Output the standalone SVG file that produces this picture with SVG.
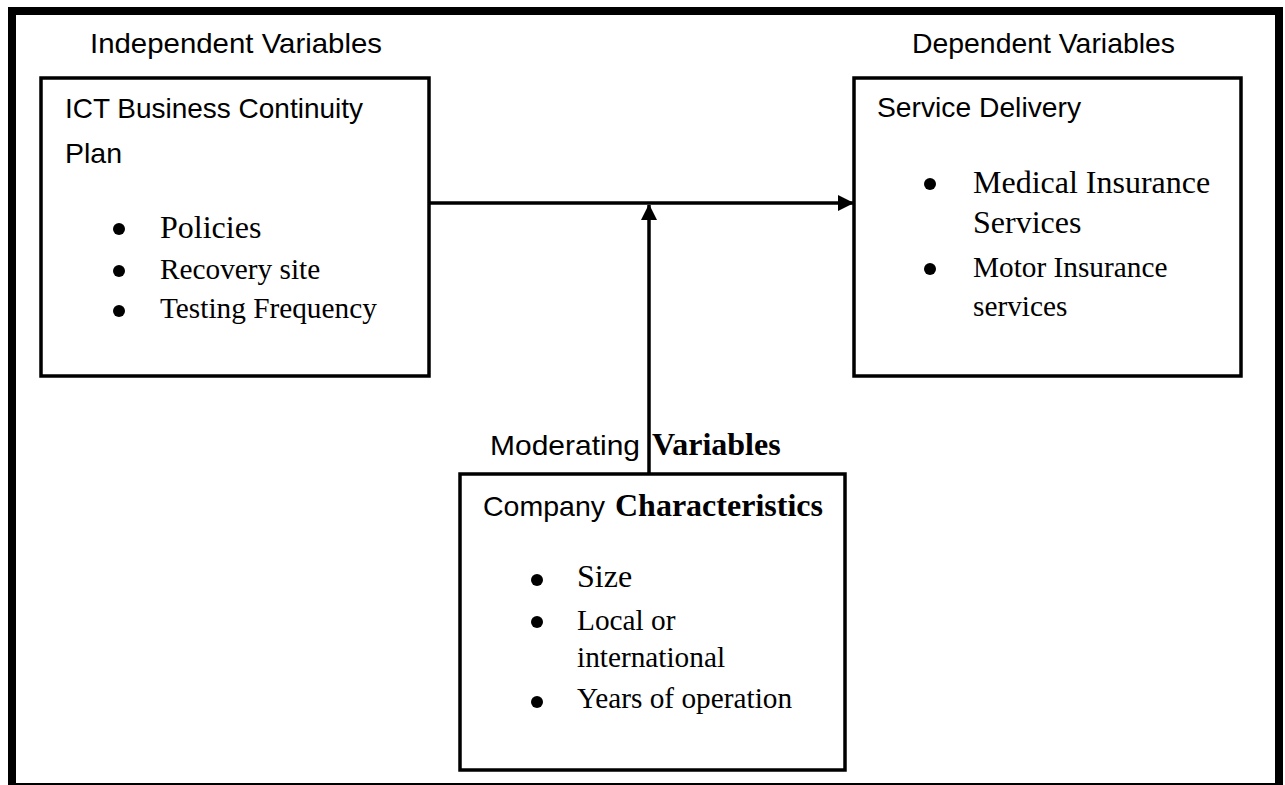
<svg xmlns="http://www.w3.org/2000/svg" width="1285" height="785" viewBox="0 0 1285 785">
<style>
.box{fill:#fff;stroke:#000;stroke-width:3.5}
.sans{font-family:"Liberation Sans",Arial,sans-serif;font-size:28.5px;fill:#000}
.serif{font-family:"Liberation Serif","Times New Roman",serif;fill:#000}
.big{font-size:32px}
.sm{font-size:29.3px}
.b{font-weight:bold}
.dot{fill:#000}
.conn{stroke:#000;stroke-width:3.5;fill:none}
</style>
<defs>
<marker id="ahb" markerWidth="16" markerHeight="16" refX="15" refY="8" orient="auto" markerUnits="userSpaceOnUse" viewBox="0 0 16 16">
<path d="M0,0 L16,8 L0,16 Z" fill="#000"/>
</marker>
</defs>
<rect x="0" y="0" width="1285" height="785" fill="#fff"/>
<rect x="12" y="11" width="1267" height="776" fill="none" stroke="#000" stroke-width="8"/>

<text class="sans" x="90" y="53" textLength="292" lengthAdjust="spacingAndGlyphs">Independent Variables</text>
<text class="sans" x="912" y="53" textLength="263" lengthAdjust="spacingAndGlyphs">Dependent Variables</text>

<g id="independent">
<rect class="box" x="41" y="78" width="388" height="298"/>
<text class="sans" x="65" y="118" textLength="298" lengthAdjust="spacingAndGlyphs">ICT Business Continuity</text>
<text class="sans" x="65" y="163">Plan</text>
<circle class="dot" cx="119" cy="229" r="6"/>
<text class="serif big" x="160" y="238">Policies</text>
<circle class="dot" cx="119" cy="271" r="6"/>
<text class="serif sm" x="160" y="279">Recovery site</text>
<circle class="dot" cx="119" cy="311" r="6"/>
<text class="serif sm" x="160" y="318">Testing Frequency</text>
</g>

<g id="dependent">
<rect class="box" x="854" y="78" width="387" height="298"/>
<text class="sans" x="877" y="117" textLength="204" lengthAdjust="spacingAndGlyphs">Service Delivery</text>
<circle class="dot" cx="930" cy="184" r="6"/>
<text class="serif big" x="973" y="193">Medical Insurance</text>
<text class="serif big" x="973" y="233">Services</text>
<circle class="dot" cx="930" cy="269" r="6"/>
<text class="serif sm" x="973" y="277">Motor Insurance</text>
<text class="serif sm" x="973" y="316">services</text>
</g>

<g id="moderating">
<text class="sans" x="490" y="455" textLength="150" lengthAdjust="spacingAndGlyphs">Moderating</text>
<text class="serif big b" x="652" y="455">Variables</text>
<rect class="box" x="460" y="474" width="385" height="296"/>
<text class="sans" x="483" y="516" textLength="122" lengthAdjust="spacingAndGlyphs">Company</text>
<text class="serif big b" x="615" y="516">Characteristics</text>
<circle class="dot" cx="537" cy="580" r="6"/>
<text class="serif big" x="577" y="587">Size</text>
<circle class="dot" cx="537" cy="622" r="6"/>
<text class="serif sm" x="577" y="630">Local or</text>
<text class="serif sm" x="577" y="667">international</text>
<circle class="dot" cx="537" cy="702" r="6"/>
<text class="serif sm" x="577" y="708">Years of operation</text>
</g>

<g id="connectors">
<line class="conn" x1="429" y1="203" x2="853" y2="203" marker-end="url(#ahb)"/>
<line class="conn" x1="649" y1="474" x2="649" y2="205" marker-end="url(#ahb)"/>
</g>
</svg>
